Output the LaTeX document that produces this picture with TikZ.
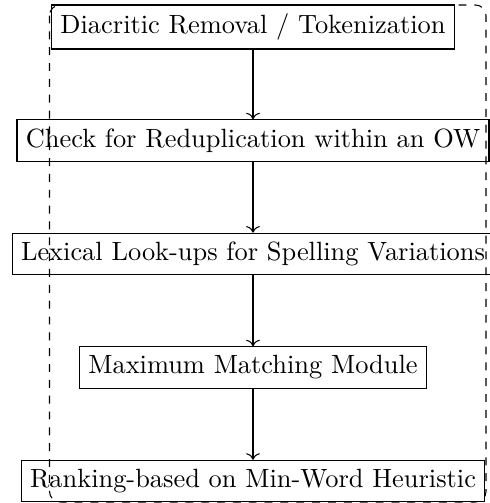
\documentclass[tikz,border=0pt]{standalone}
\usetikzlibrary{arrows.meta}
\begin{document}
\begin{tikzpicture}[x=0.3788pt,y=-0.3788pt,
  stepbox/.style={draw,rectangle,inner sep=0.3333em,font=\normalsize},
  conn/.style={->}]
\useasboundingbox (0,0) rectangle (489,503);
\node[stepbox] (a) at (253,27) {Diacritic Removal / Tokenization};
\node[stepbox] (b) at (253,140.5) {Check for Reduplication within an OW};
\node[stepbox] (c) at (253,254) {Lexical Look-ups for Spelling Variations};
\node[stepbox] (d) at (253,367.5) {Maximum Matching Module};
\node[stepbox] (e) at (253,481) {Ranking-based on Min-Word Heuristic};
\draw[conn] (a) -- (b);
\draw[conn] (b) -- (c);
\draw[conn] (c) -- (d);
\draw[conn] (d) -- (e);
\draw[dashed,rounded corners=4pt] (49.5,5) rectangle (486,502);
\end{tikzpicture}
\end{document}
